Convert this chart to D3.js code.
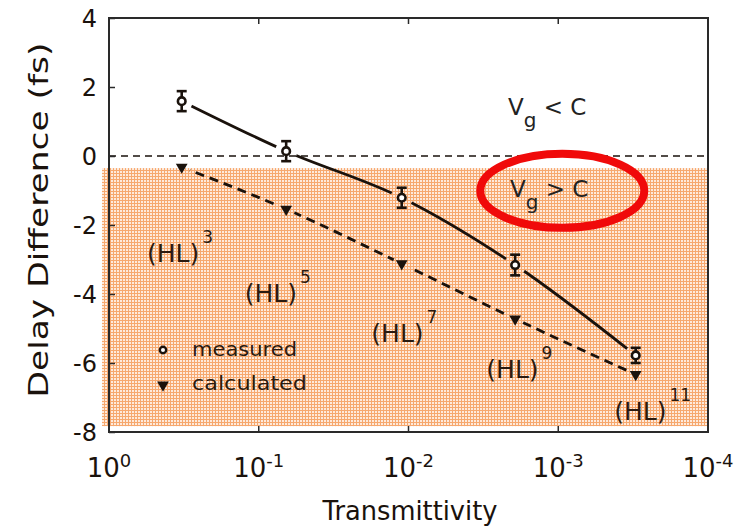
<!DOCTYPE html>
<html>
<head>
<meta charset="utf-8">
<script src="https://cdn.jsdelivr.net/npm/d3@7"></script>
<style>
  html, body { margin: 0; padding: 0; background: #fff; }
  svg { display: block; font-family: "DejaVu Sans", sans-serif; }
</style>
</head>
<body>
<svg id="chart" width="738" height="526"></svg>
<script>
// ---- data ----
const transmittivity = [0.327, 0.0656, 0.0111, 0.00194, 0.000304];
const measured      = [1.59, 0.14, -1.21, -3.16, -5.78];
const measuredErr   = [0.29, 0.29, 0.29, 0.30, 0.22];
const calculated    = [-0.32, -1.54, -3.12, -4.72, -6.33];
const xTickExps     = [0, -1, -2, -3, -4];
const yTicks        = [4, 2, 0, -2, -4, -6, -8];
const stackLabels   = ["3", "5", "7", "9", "11"];
const stackLabelT   = [0.558, 0.124, 0.0177, 0.00302, 0.000423];
const stackLabelY   = [-3.07, -4.23, -5.39, -6.43, -7.65];
const shadeRange    = [-0.35, -7.83];
const ellipseCenter = [0.00094, -1.01];
const legendT       = 0.436;

// ---- layout ----
const svg = d3.select("#chart");
const x = d3.scaleLog().domain([1, 1e-4]).range([109, 708]);
const y = d3.scaleLinear().domain([-8, 4]).range([432, 18]);
const ink = "#1a120c";

const defs = svg.append("defs");
const pat = defs.append("pattern").attr("id", "grid")
  .attr("width", 3).attr("height", 3).attr("patternUnits", "userSpaceOnUse");
pat.append("rect").attr("width", 3).attr("height", 3).attr("fill", "#feeadb");
pat.append("rect").attr("x", 2).attr("width", 1).attr("height", 3).attr("fill", "#f6a86e");
pat.append("rect").attr("y", 2).attr("width", 3).attr("height", 1).attr("fill", "#f6a86e");

// shaded vg > c region
svg.append("rect")
  .attr("x", x(1) - 7).attr("y", y(shadeRange[0]))
  .attr("width", x(1e-4) - x(1) + 7)
  .attr("height", y(shadeRange[1]) - y(shadeRange[0]))
  .attr("fill", "url(#grid)");

// zero line
svg.append("line")
  .attr("x1", x(1)).attr("x2", x(1e-4)).attr("y1", y(0)).attr("y2", y(0))
  .attr("stroke", ink).attr("stroke-width", 1.4).attr("stroke-dasharray", "7,5");

// masks for gaps around markers
function makeMask(id, vals, r) {
  const m = defs.append("mask").attr("id", id).attr("maskUnits", "userSpaceOnUse")
    .attr("x", 0).attr("y", 0).attr("width", 738).attr("height", 526);
  m.append("rect").attr("width", 738).attr("height", 526).attr("fill", "#fff");
  transmittivity.forEach((t, i) => {
    m.append("circle").attr("cx", x(t)).attr("cy", y(vals[i])).attr("r", r).attr("fill", "#000");
  });
}
makeMask("mMeas", measured, 11);
makeMask("mCalc", calculated, 9);

const lineGen = d3.line().x(d => x(d[0])).y(d => y(d[1])).curve(d3.curveMonotoneX);

svg.append("path")
  .attr("d", lineGen(transmittivity.map((t, i) => [t, measured[i]])))
  .attr("fill", "none").attr("stroke", ink).attr("stroke-width", 2.8)
  .attr("mask", "url(#mMeas)");

svg.append("path")
  .attr("d", lineGen(transmittivity.map((t, i) => [t, calculated[i]])))
  .attr("fill", "none").attr("stroke", ink).attr("stroke-width", 2.8)
  .attr("stroke-dasharray", "9,6").attr("mask", "url(#mCalc)");

// triangles (calculated)
const tri = d3.symbol().type(d3.symbolTriangle).size(60);
transmittivity.forEach((t, i) => {
  svg.append("path").attr("d", tri())
    .attr("transform", `translate(${x(t)},${y(calculated[i])}) rotate(180)`)
    .attr("fill", ink);
});

// measured with error bars
transmittivity.forEach((t, i) => {
  const cx = x(t), cy = y(measured[i]);
  const y1 = y(measured[i] + measuredErr[i]), y2 = y(measured[i] - measuredErr[i]);
  const g = svg.append("g").attr("stroke", ink).attr("stroke-width", 2.6);
  g.append("line").attr("x1", cx).attr("x2", cx).attr("y1", y1).attr("y2", y2);
  g.append("line").attr("x1", cx - 5).attr("x2", cx + 5).attr("y1", y1).attr("y2", y1);
  g.append("line").attr("x1", cx - 5).attr("x2", cx + 5).attr("y1", y2).attr("y2", y2);
  g.append("circle").attr("cx", cx).attr("cy", cy).attr("r", 3.8).attr("fill", "#fff");
});

// frame
svg.append("rect")
  .attr("x", x(1)).attr("y", y(4))
  .attr("width", x(1e-4) - x(1)).attr("height", y(-8) - y(4))
  .attr("fill", "none").attr("stroke", "#2a2a2a").attr("stroke-width", 2);

// y axis
const yAxis = d3.axisLeft(y).tickValues(yTicks).tickSize(-6).tickPadding(12)
  .tickFormat(d => (d < 0 ? "-" + Math.abs(d) : String(d)));
const yg = svg.append("g").attr("transform", `translate(${x(1)},0)`).call(yAxis);
yg.select(".domain").remove();
yg.selectAll("line").attr("stroke", "#2a2a2a").attr("stroke-width", 1.5);
yg.selectAll("text").attr("font-size", 24).attr("fill", ink)
  .attr("font-family", "DejaVu Sans, sans-serif").attr("dy", "0.36em");

// x ticks (inner, bottom and top)
xTickExps.slice(1, -1).forEach(e => {
  const px = x(Math.pow(10, e));
  svg.append("line").attr("x1", px).attr("x2", px).attr("y1", y(-8)).attr("y2", y(-8) - 6)
    .attr("stroke", "#2a2a2a").attr("stroke-width", 1.5);
  svg.append("line").attr("x1", px).attr("x2", px).attr("y1", y(4)).attr("y2", y(4) + 6)
    .attr("stroke", "#2a2a2a").attr("stroke-width", 1.5);
});
xTickExps.forEach(e => {
  const px = x(Math.pow(10, e));
  const t = svg.append("text").attr("x", px).attr("y", 477)
    .attr("text-anchor", "middle").attr("fill", ink).attr("font-size", 26);
  t.append("tspan").text("10");
  t.append("tspan").attr("font-size", 18).attr("dy", -10).text(e < 0 ? "-" + Math.abs(e) : String(e));
});

// axis titles
svg.append("text").attr("x", 410).attr("y", 520).attr("text-anchor", "middle")
  .attr("font-size", 26).attr("fill", ink)
  .attr("textLength", 175).attr("lengthAdjust", "spacingAndGlyphs")
  .text("Transmittivity");
svg.append("text").attr("transform", "translate(48,220) rotate(-90)")
  .attr("text-anchor", "middle").attr("font-size", 26).attr("fill", ink)
  .attr("textLength", 355).attr("lengthAdjust", "spacingAndGlyphs")
  .text("Delay Difference (fs)");

// (HL)^n labels
stackLabels.forEach((n, i) => {
  const t = svg.append("text").attr("x", x(stackLabelT[i])).attr("y", y(stackLabelY[i]))
    .attr("fill", "#2a1a10").attr("font-size", 25);
  t.append("tspan").text("(HL)");
  t.append("tspan").attr("font-size", 17).attr("dy", -19).attr("dx", 3).text(n);
});

// legend
const legX = x(legendT);
svg.append("circle").attr("cx", legX).attr("cy", 350).attr("r", 3.2)
  .attr("fill", "#fff").attr("stroke", ink).attr("stroke-width", 2.4);
svg.append("text").attr("x", 192).attr("y", 356).attr("font-size", 20).attr("fill", "#2a1a10")
  .attr("textLength", 105).attr("lengthAdjust", "spacingAndGlyphs").text("measured");
svg.append("path").attr("d", tri()).attr("transform", `translate(${legX},385) rotate(180)`).attr("fill", ink);
svg.append("text").attr("x", 192).attr("y", 390).attr("font-size", 20).attr("fill", "#2a1a10")
  .attr("textLength", 115).attr("lengthAdjust", "spacingAndGlyphs").text("calculated");

// vg < c, vg > c
function vgText(xpx, ypx, rel) {
  const t = svg.append("text").attr("x", xpx).attr("y", ypx).attr("fill", "#222").attr("font-size", 23);
  t.append("tspan").text("V");
  t.append("tspan").attr("font-size", 20).attr("dy", 12).text("g");
  t.append("tspan").attr("dy", -12).text(" " + rel + " C");
}
vgText(508, 115, "<");
vgText(510, 197, ">");

// red ellipse annotation
svg.append("ellipse")
  .attr("cx", x(ellipseCenter[0])).attr("cy", y(ellipseCenter[1]))
  .attr("rx", 82).attr("ry", 37)
  .attr("fill", "none").attr("stroke", "#f00a0a").attr("stroke-width", 8);
</script>
</body>
</html>
